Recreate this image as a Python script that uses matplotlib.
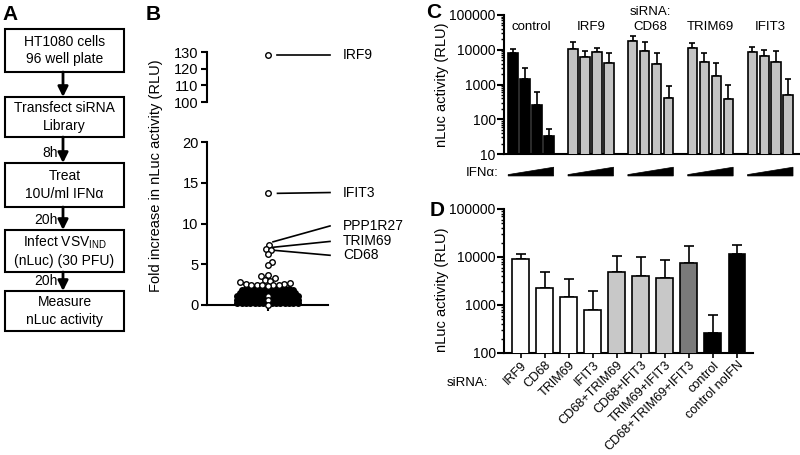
import matplotlib
matplotlib.use('Agg')
import matplotlib.pyplot as plt
import numpy as np
import matplotlib.transforms as mtransforms
from matplotlib.patches import Rectangle, Polygon
from matplotlib.ticker import FixedLocator, LogLocator, NullFormatter, FuncFormatter

plt.rcParams['font.family'] = ['Liberation Sans', 'DejaVu Sans']
plt.rcParams['axes.linewidth'] = 1.5

# ---------------- data ----------------
# Panel A (workflow)
a_steps = ["HT1080 cells\n96 well plate",
           "Transfect siRNA\nLibrary",
           "Treat\n10U/ml IFNα",
           "Infect VSV$_{\\mathregular{IND}}$\n(nLuc) (30 PFU)",
           "Measure\nnLuc activity"]
a_times = ["", "8h", "20h", "20h"]

# Panel B (screen, fold increase)
b_hit_genes = ["IRF9", "IFIT3", "PPP1R27", "TRIM69", "CD68"]
b_hit_values = [128, 13.7, 7.4, 6.9, 6.7]
b_label_y = [128, 13.8, 9.7, 7.8, 6.1]
b_other_values = [6.2, 5.3, 4.9, 3.7, 3.5, 3.27, 3.05, 2.95, 2.8, 2.75,
                  2.6, 2.55, 2.5, 2.45, 2.45, 2.4, 2.4, 2.35]
b_bulk_levels = [0.25, 0.65, 1.05, 1.45, 1.8, 2.0]
b_bulk_counts = [15, 15, 15, 14, 13, 11]
b_inner_values = [1.15, 0.6, 0.05]

# Panel C
c_groups = ["control", "IRF9", "CD68", "TRIM69", "IFIT3"]
c_means = [[7900, 1470, 257, 33],
           [10200, 6000, 8400, 4050],
           [18200, 9400, 3800, 417],
           [11000, 4450, 1760, 382],
           [8400, 6750, 4550, 500]]
c_upper = [[10200, 2920, 597, 52],
           [17000, 9100, 11400, 7900],
           [24900, 17000, 8200, 905],
           [15300, 7900, 4050, 968],
           [12000, 9800, 9100, 1450]]
c_yticks = [10, 100, 1000, 10000, 100000]

# Panel D
d_labels = ["IRF9", "CD68", "TRIM69", "IFIT3", "CD68+TRIM69", "CD68+IFIT3",
            "TRIM69+IFIT3", "CD68+TRIM69+IFIT3", "control", "control noIFN"]
d_means = [9080, 2260, 1490, 790, 4950, 4080, 3590, 7620, 261, 11360]
d_upper = [11500, 4790, 3480, 1930, 10300, 10000, 8800, 17200, 610, 17500]
d_colors = ['white'] * 4 + ['#c8c8c8'] * 3 + ['#7a7a7a'] + ['black'] * 2
d_yticks = [100, 1000, 10000, 100000]

# ---------------- figure ----------------
W, H = 800, 455
fig = plt.figure(figsize=(W / 100, H / 100), dpi=100)


def rect(x0, y0, x1, y1):
    return [x0 / W, 1 - y1 / H, (x1 - x0) / W, (y1 - y0) / H]


def ftext(x, y, s, **kw):
    return fig.text(x / W, 1 - y / H, s, **kw)


# ---------------- Panel A ----------------
axA = fig.add_axes([0, 0, 1, 1])
axA.set_xlim(0, W)
axA.set_ylim(H, 0)
axA.axis('off')
box_x0, box_x1 = 5, 124
box_tops = [29, 97, 163, 230, 291]
box_bots = [72, 137, 207, 272, 331]
arrow_x = 63
for i, s in enumerate(a_steps):
    axA.add_patch(Rectangle((box_x0, box_tops[i]), box_x1 - box_x0,
                            box_bots[i] - box_tops[i], fill=False, lw=1.5, ec='k'))
    axA.text((box_x0 + box_x1) / 2, (box_tops[i] + box_bots[i]) / 2, s,
             ha='center', va='center', fontsize=10, linespacing=1.3)
for i in range(1, len(a_steps)):
    axA.annotate('', xy=(arrow_x, box_tops[i]), xytext=(arrow_x, box_bots[i - 1]),
                 arrowprops=dict(arrowstyle='-|>,head_length=0.6,head_width=0.3',
                                 lw=2, color='k', shrinkA=0, shrinkB=0))
    if a_times[i - 1]:
        axA.text(arrow_x - 5, box_tops[i] - 3, a_times[i - 1], ha='right', va='bottom',
                 fontsize=10)

for lab, (x, y) in zip("ABCD", [(10, 15), (153, 15), (434, 13), (437, 211)]):
    ftext(x, y, lab, fontsize=15, fontweight='bold', ha='center', va='center')

# ---------------- Panel B ----------------
bx0, bx1 = 207, 328
axBu = fig.add_axes(rect(bx0, 52, bx1, 102))
axBl = fig.add_axes(rect(bx0, 142, bx1, 305))
for ax in (axBu, axBl):
    ax.set_xlim(-1, 1)
    ax.spines['top'].set_visible(False)
    ax.spines['right'].set_visible(False)
    ax.tick_params(axis='both', direction='out', length=4.5, width=1.5,
                   labelsize=10.5, pad=1.5)
    ax.patch.set_alpha(0)
axBu.spines['bottom'].set_visible(False)
axBu.set_ylim(100, 130)
axBu.set_yticks([100, 110, 120, 130])
axBu.set_xticks([])
axBl.set_ylim(0, 20)
axBl.set_yticks([0, 5, 10, 15, 20])
axBl.set_xticks([0])
axBl.set_xticklabels([''])

px_per_x = (bx1 - bx0) / 2.0
px_per_y = (305 - 142) / 20.0


def swarm_offsets(values, diam_px, step_px=0.5):
    values = np.asarray(values, dtype=float)
    order = np.argsort(values, kind='stable')
    placed = []
    offs = np.zeros(len(values))
    for n, idx in enumerate(order):
        y = values[idx] * px_per_y
        sign_first = 1 if n % 2 == 0 else -1
        k = 0
        found = None
        while found is None:
            cands = [0.0] if k == 0 else [sign_first * k * step_px, -sign_first * k * step_px]
            for c in cands:
                if all((c - px) ** 2 + (y - py) ** 2 >= diam_px ** 2 for px, py in placed):
                    found = c
                    break
            k += 1
        placed.append((found, y))
        offs[idx] = found / px_per_x
    return offs


msize = 4.0
hollow = dict(marker='o', ms=msize, mfc='white', mec='black', mew=1.0, ls='none', clip_on=False)

# bulk of the screen (dense black mass)
for lev, cnt in zip(b_bulk_levels, b_bulk_counts):
    xo = (np.arange(cnt) - (cnt - 1) / 2) * 4.3 / px_per_x
    axBl.plot(xo, np.full(cnt, lev), marker='o', ms=msize, mfc='black', mec='black',
              mew=1.0, ls='none', clip_on=False, zorder=3)
axBl.plot(np.zeros(len(b_inner_values)), b_inner_values, zorder=4, **hollow)

lower_vals = b_hit_values[1:] + b_other_values
lower_offs = swarm_offsets(lower_vals, 5.3)
axBl.plot(lower_offs, lower_vals, zorder=5, **hollow)
axBu.plot([0], [b_hit_values[0]], zorder=5, **hollow)

line_end_x = (330 - bx0) / px_per_x - 1
label_x = (343 - bx0) / px_per_x - 1
gaps_px = [9, 10, 4, 5, 4]
start_dy = [0, 0, 0.35, 0.15, 0]
for i, (g, v, ly) in enumerate(zip(b_hit_genes, b_hit_values, b_label_y)):
    ax = axBu if i == 0 else axBl
    x0 = 0.0 if i == 0 else lower_offs[i - 1]
    xs0 = x0 + gaps_px[i] / px_per_x
    ax.plot([xs0, line_end_x], [v + start_dy[i], ly], color='black', lw=1.2,
            clip_on=False, zorder=4)
    ax.text(label_x, ly, g, ha='left', va='center', fontsize=10, clip_on=False)

ftext(156, 176, "Fold increase in nLuc activity (RLU)", rotation=90,
      ha='center', va='center', fontsize=10.5)

# ---------------- Panel C ----------------
axC = fig.add_axes(rect(504, 15, 799, 154))
axC.set_yscale('log')
axC.set_ylim(10, 1e5)
axC.set_xlim(-0.75, 23.9)
axC.patch.set_alpha(0)
for sp in ('top', 'right'):
    axC.spines[sp].set_visible(False)
axC.yaxis.set_major_locator(FixedLocator(c_yticks))
axC.yaxis.set_major_formatter(FuncFormatter(lambda v, p: f"{int(round(v))}"))
axC.yaxis.set_minor_locator(LogLocator(base=10, subs=np.arange(2, 10)))
axC.yaxis.set_minor_formatter(NullFormatter())
axC.tick_params(axis='y', which='major', length=5, width=1.5, labelsize=10, pad=1)
axC.tick_params(axis='y', which='minor', length=2.5, width=1.0)
axC.set_xticks([])
trC = mtransforms.blended_transform_factory(axC.transData, axC.transAxes)
for g, name in enumerate(c_groups):
    xg = g * 5 + np.arange(4)
    col = 'black' if name == 'control' else '#c3c3c3'
    m = np.array(c_means[g], dtype=float)
    u = np.array(c_upper[g], dtype=float)
    axC.bar(xg, m, width=0.8, color=col, edgecolor='black', lw=1.2, zorder=3)
    axC.errorbar(xg, m, yerr=[np.zeros(4), u - m], fmt='none', ecolor='black',
                 elinewidth=1.2, capsize=2.5, capthick=1.2, zorder=2)
    axC.text(g * 5 + 1.5, 0.915, name, transform=trC, ha='center', va='center', fontsize=9.5)
    wedge = Polygon([(g * 5 - 0.4, -0.158), (g * 5 + 3.4, -0.158),
                     (g * 5 + 3.4, -0.095), (g * 5 - 0.4, -0.148)],
                    closed=True, transform=trC, facecolor='black', edgecolor='black',
                    lw=0.5, clip_on=False)
    axC.add_patch(wedge)
axC.text(2 * 5 + 1.5, 1.025, "siRNA:", transform=trC, ha='center', va='center', fontsize=9.5)
axC.text(-0.017, -0.137, "IFNα:", transform=axC.transAxes, ha='right', va='center', fontsize=9.5)
ftext(442, 85, "nLuc activity (RLU)", rotation=90, ha='center', va='center', fontsize=10.5)

# ---------------- Panel D ----------------
axD = fig.add_axes(rect(504, 209, 753, 353))
axD.set_yscale('log')
axD.set_ylim(100, 1e5)
axD.set_xlim(-0.7, 9.67)
axD.patch.set_alpha(0)
for sp in ('top', 'right'):
    axD.spines[sp].set_visible(False)
axD.yaxis.set_major_locator(FixedLocator(d_yticks))
axD.yaxis.set_major_formatter(FuncFormatter(lambda v, p: f"{int(round(v))}"))
axD.yaxis.set_minor_locator(LogLocator(base=10, subs=np.arange(2, 10)))
axD.yaxis.set_minor_formatter(NullFormatter())
axD.tick_params(axis='y', which='major', length=5, width=1.5, labelsize=10, pad=1)
axD.tick_params(axis='y', which='minor', length=2.5, width=1.0)
xd = np.arange(len(d_labels))
dm = np.array(d_means, dtype=float)
du = np.array(d_upper, dtype=float)
axD.bar(xd, dm, width=0.7, color=d_colors, edgecolor='black', lw=1.2, zorder=3)
axD.errorbar(xd, dm, yerr=[np.zeros(len(xd)), du - dm], fmt='none', ecolor='black',
             elinewidth=1.2, capsize=3.5, capthick=1.2, zorder=2)
axD.set_xticks(xd)
axD.set_xticklabels(d_labels, rotation=45, ha='right', va='top', rotation_mode='anchor',
                    fontsize=9.1)
axD.tick_params(axis='x', length=3.5, width=1.2, pad=1)
ftext(442, 290, "nLuc activity (RLU)", rotation=90, ha='center', va='center', fontsize=10.5)
ftext(447, 383, "siRNA:", ha='left', va='center', fontsize=9.5)

fig.savefig('out.png', dpi=100)
